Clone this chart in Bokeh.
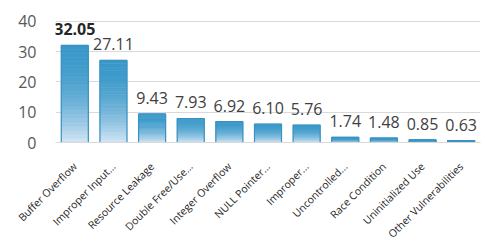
import math
from bokeh.plotting import figure
from bokeh.models import FactorRange, Range1d, FixedTicker, ColumnDataSource
from bokeh.core.properties import value
from bokeh.embed import file_html
from bokeh.resources import INLINE

categories = ["Buffer Overflow", "Improper Input...", "Resource Leakage", "Double Free/Use...",
              "Integer Overflow", "NULL Pointer...", "Improper...", "Uncontrolled...",
              "Race Condition", "Uninitialized Use", "Other Vulnerabilities"]
values = [32.05, 27.11, 9.43, 7.93, 6.92, 6.10, 5.76, 1.74, 1.48, 0.85, 0.63]
y_ticks = [0, 10, 20, 30, 40]

p = figure(frame_width=425, frame_height=126, output_backend="svg", toolbar_location=None,
           x_range=FactorRange(factors=categories, range_padding=0),
           y_range=Range1d(0, 41.6),
           min_border_left=55, min_border_right=5, min_border_top=16, min_border_bottom=0)
p.outline_line_color = None
p.background_fill_color = "white"

# gradient bars
N = 24
top_c = (58, 152, 201)
bot_c = (212, 230, 245)
for i in range(N):
    f0, f1 = i / N, (i + 1) / N
    t = 1 - (f0 + f1) / 2  # 0 at top, 1 at bottom
    w = t ** 2.0
    col = "#%02x%02x%02x" % tuple(int(round(top_c[k] + (bot_c[k] - top_c[k]) * w)) for k in range(3))
    src = ColumnDataSource(dict(x=categories,
                                bottom=[v * f0 for v in values],
                                top=[v * f1 for v in values]))
    p.vbar(x="x", bottom="bottom", top="top", width=0.7, source=src,
           fill_color=col, line_color=col, line_width=0.6)

p.vbar(x=categories, top=values, bottom=0, width=0.7, fill_alpha=0,
       line_color="#3a92c2", line_width=1.2)

# labels
labels = ["%.2f" % v for v in values]
p.text(x=categories[1:], y=values[1:], text=labels[1:], text_align="center",
       text_baseline="bottom", y_offset=-10, text_font=value("Open Sans"),
       text_font_size="16px", text_color="#404040")
p.text(x=categories[:1], y=values[:1], text=labels[:1], text_align="center",
       text_baseline="bottom", y_offset=-10, text_font=value("Open Sans"),
       text_font_size="16px", text_font_style="bold", text_color="#262626")

# axes
p.xgrid.grid_line_color = None
p.ygrid.grid_line_color = "#d9d9d9"
p.ygrid.grid_line_width = 1
p.yaxis.ticker = FixedTicker(ticks=y_ticks)
p.yaxis.axis_line_color = None
p.yaxis.major_tick_line_color = None
p.yaxis.minor_tick_line_color = None
p.yaxis.major_label_standoff = 13
p.yaxis.major_label_text_font = "Open Sans"
p.yaxis.major_label_text_font_size = "16px"
p.yaxis.major_label_text_color = "#595959"

p.xaxis.axis_line_color = "#d9d9d9"
p.xaxis.major_tick_line_color = None
p.xaxis.minor_tick_line_color = None
p.xaxis.major_label_orientation = math.pi / 4
p.xaxis.major_label_standoff = 16
p.xaxis.major_label_text_font = "Open Sans"
p.xaxis.major_label_text_font_size = "10.5px"
p.xaxis.major_label_text_color = "#262626"

open("out.html", "w").write(file_html(p, INLINE))
